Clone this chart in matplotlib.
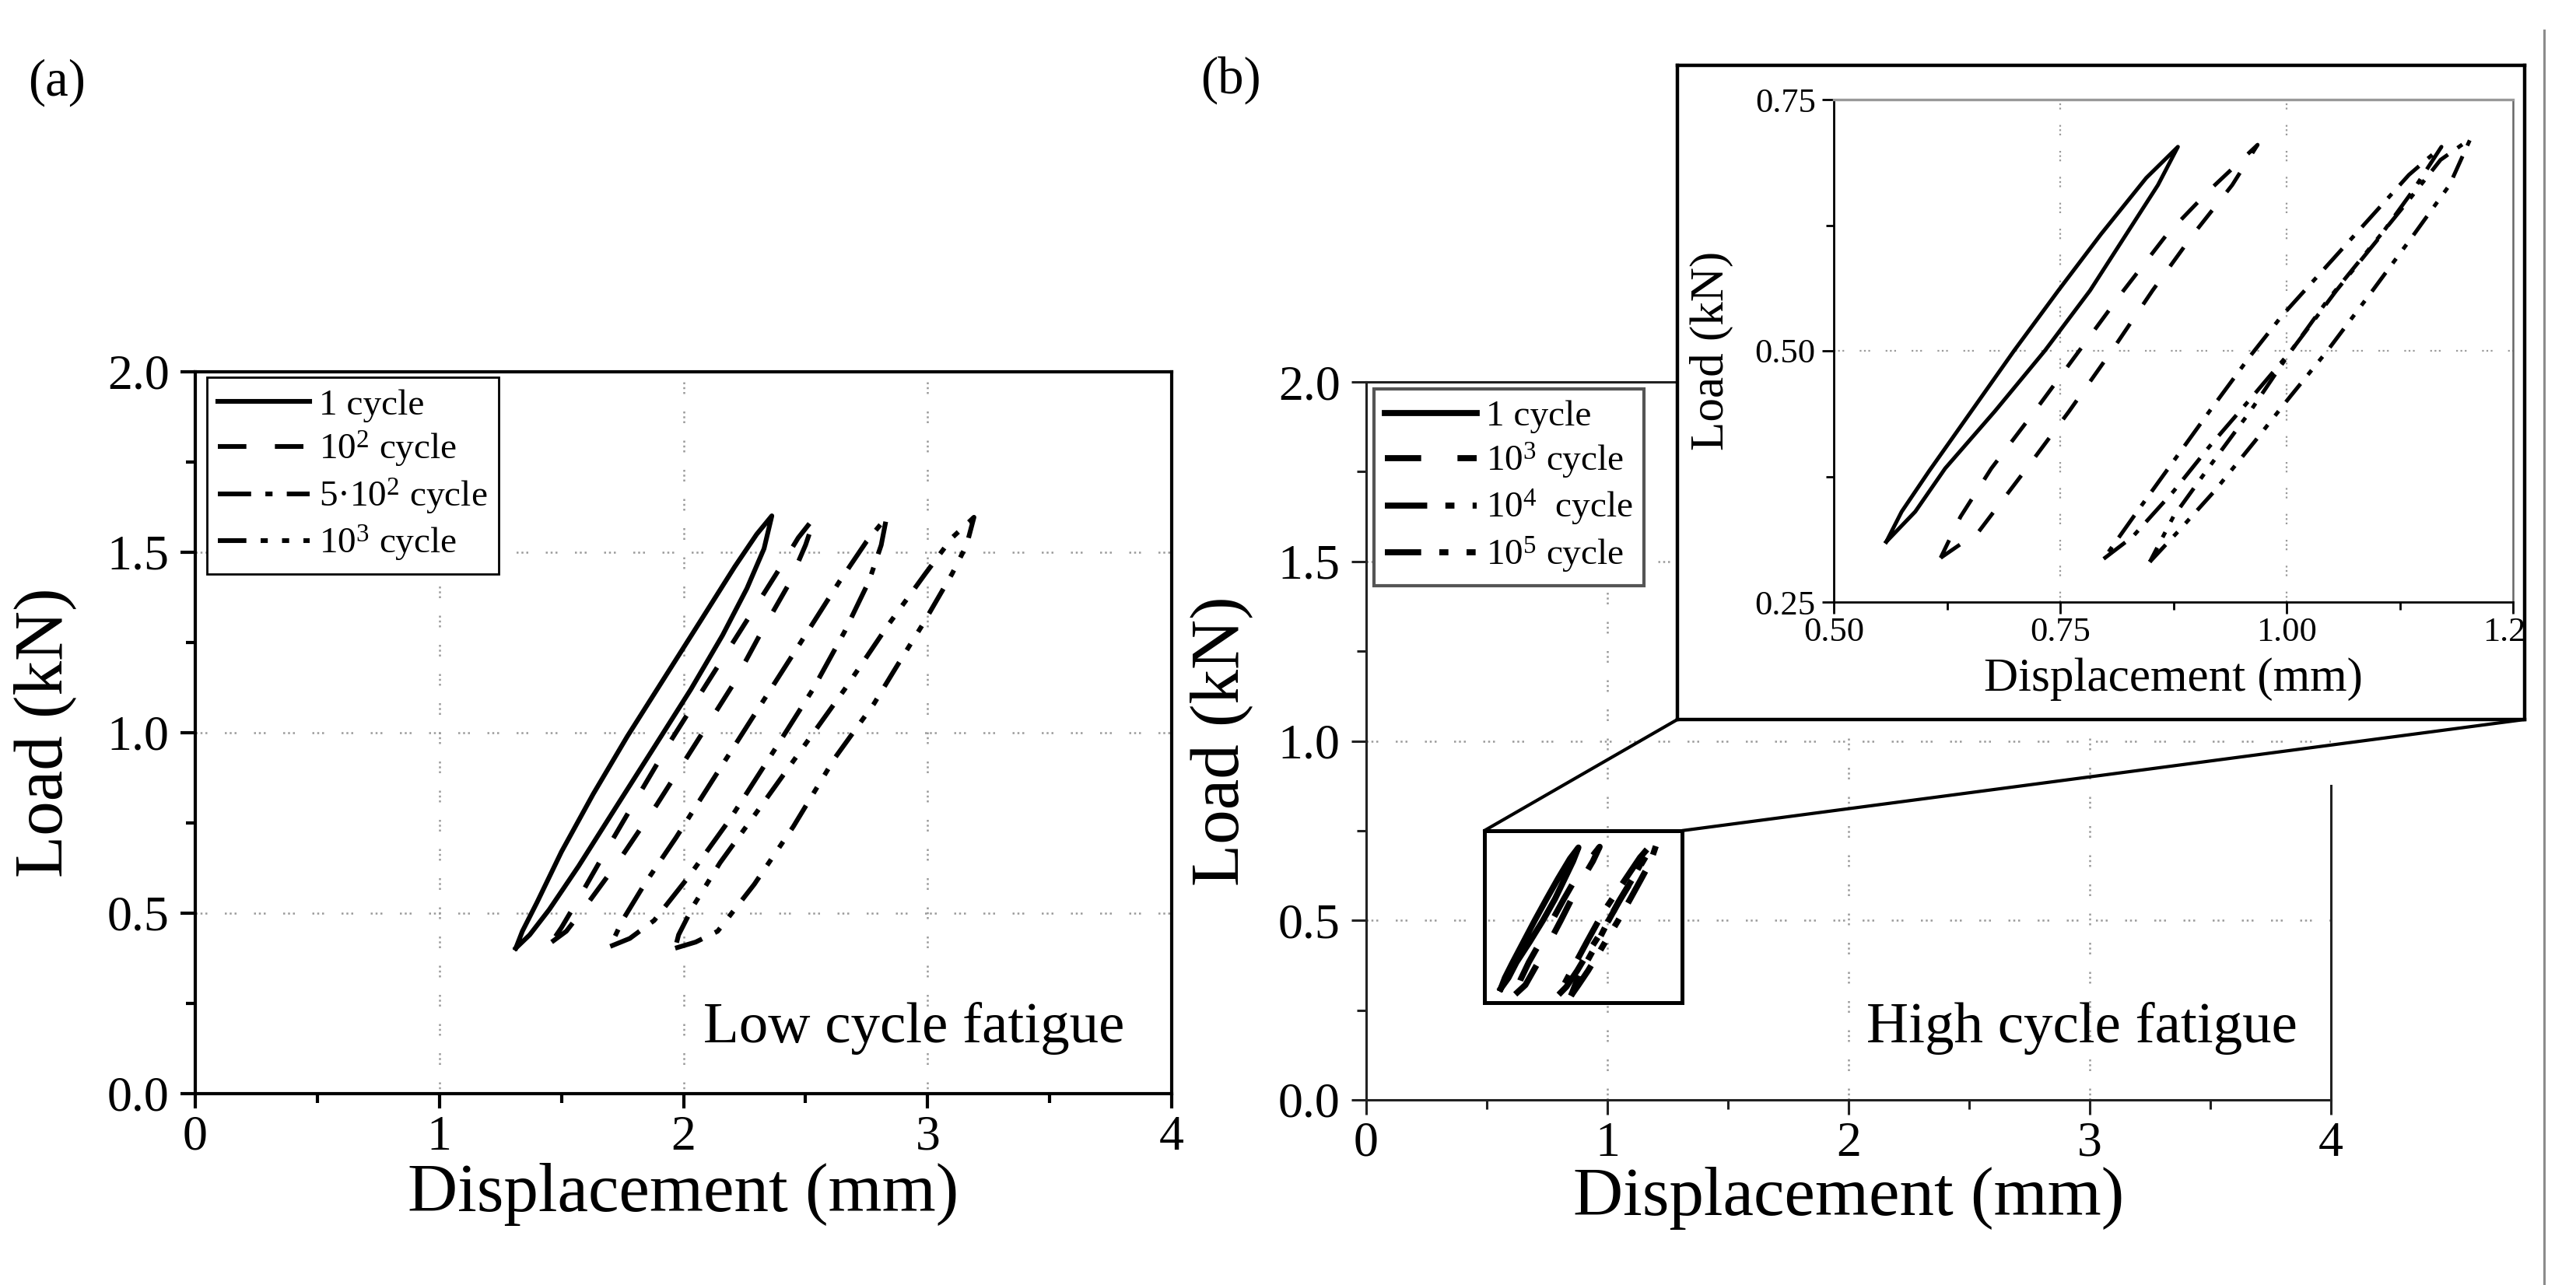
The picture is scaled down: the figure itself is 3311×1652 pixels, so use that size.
import matplotlib
matplotlib.use("Agg")
import matplotlib.pyplot as plt
from matplotlib.patches import Rectangle, ConnectionPatch
from matplotlib.lines import Line2D
from matplotlib.ticker import MultipleLocator, FixedLocator

plt.rcParams["font.family"] = ["Liberation Serif", "DejaVu Serif"]
plt.rcParams["mathtext.fontset"] = "custom"
plt.rcParams["mathtext.rm"] = "Liberation Serif"
plt.rcParams["mathtext.it"] = "Liberation Serif:italic"
plt.rcParams["mathtext.bf"] = "Liberation Serif:bold"

W, H, DPI = 3311, 1652, 200

# (a) low cycle fatigue: displacement (mm) vs load (kN), one closed loop per cycle count
low_labels = ["1 cycle", "10$^{2}$ cycle", "5·10$^{2}$ cycle", "10$^{3}$ cycle"]

low_1_x = [1.313, 1.37, 1.45, 1.57, 1.72, 1.88, 2.03, 2.16, 2.26, 2.33, 2.362,
           2.30, 2.21, 2.07, 1.92, 1.77, 1.63, 1.50, 1.40, 1.34, 1.313]
low_1_y = [0.403, 0.44, 0.51, 0.63, 0.79, 0.96, 1.12, 1.27, 1.40, 1.51, 1.601,
           1.55, 1.46, 1.31, 1.15, 0.99, 0.83, 0.67, 0.53, 0.45, 0.403]

low_2_x = [1.46, 1.52, 1.60, 1.73, 1.89, 2.05, 2.20, 2.32, 2.43, 2.50, 2.54,
           2.47, 2.38, 2.24, 2.09, 1.95, 1.81, 1.68, 1.57, 1.50, 1.46]
low_2_y = [0.42, 0.45, 0.52, 0.64, 0.80, 0.97, 1.13, 1.28, 1.41, 1.52, 1.60,
           1.54, 1.44, 1.29, 1.13, 0.98, 0.82, 0.67, 0.54, 0.46, 0.42]

low_3_x = [1.70, 1.78, 1.88, 2.02, 2.19, 2.38, 2.53, 2.66, 2.76, 2.81, 2.832,
           2.75, 2.64, 2.48, 2.30, 2.13, 1.97, 1.84, 1.75, 1.70]
low_3_y = [0.408, 0.43, 0.48, 0.60, 0.76, 0.96, 1.12, 1.28, 1.42, 1.52, 1.597,
           1.53, 1.42, 1.25, 1.06, 0.88, 0.71, 0.58, 0.48, 0.408]

low_4_x = [1.966, 2.05, 2.14, 2.29, 2.45, 2.62, 2.78, 2.87, 2.98, 3.10, 3.16, 3.19,
           3.10, 2.99, 2.84, 2.66, 2.48, 2.30, 2.15, 2.04, 1.98, 1.966]
low_4_y = [0.403, 0.42, 0.45, 0.58, 0.74, 0.93, 1.08, 1.18, 1.30, 1.44, 1.52, 1.597,
           1.54, 1.44, 1.30, 1.12, 0.95, 0.78, 0.64, 0.52, 0.44, 0.403]

# (b) high cycle fatigue loops
high_labels = ["1 cycle", "10$^{3}$ cycle", "10$^{4}$  cycle", "10$^{5}$ cycle"]

high_1_x = [0.558, 0.590, 0.623, 0.678, 0.733, 0.783, 0.823, 0.858, 0.880,
            0.845, 0.795, 0.748, 0.699, 0.652, 0.605, 0.575, 0.558]
high_1_y = [0.310, 0.340, 0.383, 0.440, 0.500, 0.560, 0.616, 0.665, 0.703,
            0.672, 0.616, 0.560, 0.500, 0.440, 0.380, 0.340, 0.310]

high_2_x = [0.618, 0.660, 0.713, 0.760, 0.807, 0.852, 0.897, 0.940, 0.968,
            0.915, 0.868, 0.820, 0.771, 0.722, 0.674, 0.640, 0.618]
high_2_y = [0.294, 0.320, 0.383, 0.440, 0.500, 0.560, 0.616, 0.665, 0.705,
            0.660, 0.616, 0.560, 0.500, 0.440, 0.383, 0.335, 0.294]

high_3_x = [0.798, 0.830, 0.875, 0.915, 0.958, 1.005, 1.055, 1.100, 1.140, 1.171,
            1.135, 1.095, 1.045, 0.995, 0.960, 0.915, 0.875, 0.835, 0.798]
high_3_y = [0.293, 0.315, 0.360, 0.405, 0.450, 0.500, 0.560, 0.610, 0.660, 0.703,
            0.675, 0.635, 0.585, 0.535, 0.495, 0.440, 0.390, 0.340, 0.293]

high_4_x = [0.849, 0.880, 0.920, 0.965, 1.000, 1.045, 1.095, 1.140, 1.180, 1.203,
            1.170, 1.135, 1.090, 1.045, 1.005, 0.960, 0.915, 0.875, 0.849]
high_4_y = [0.290, 0.320, 0.360, 0.410, 0.450, 0.500, 0.560, 0.615, 0.665, 0.711,
            0.690, 0.650, 0.600, 0.550, 0.500, 0.440, 0.385, 0.335, 0.290]

# region of (b) that is magnified in the inset
zoom_x = [0.49, 1.31]
zoom_y = [0.27, 0.75]

inset_xticks = [0.50, 0.75, 1.00, 1.25]
inset_xticklabels = ["0.50", "0.75", "1.00", "1.25"]
inset_yticks = [0.25, 0.50, 0.75]
inset_yticklabels = ["0.25", "0.50", "0.75"]

styles = ["-", (0, (6, 6)), (0, (7, 3, 1.5, 3)), (0, (6, 3, 1.5, 3, 1.5, 3))]
GRID_LS = (0, (1, 1.5, 1, 1.5, 1, 9))


def px_rect(left, top, right, bottom):
    return [left / W, 1 - bottom / H, (right - left) / W, (bottom - top) / H]


def style_main(ax, spine_lw, spine_color):
    ax.set_xlim(0, 4)
    ax.set_ylim(0, 2)
    ax.xaxis.set_major_locator(MultipleLocator(1))
    ax.xaxis.set_minor_locator(MultipleLocator(0.5))
    ax.yaxis.set_major_locator(MultipleLocator(0.5))
    ax.yaxis.set_minor_locator(MultipleLocator(0.25))
    ax.yaxis.set_major_formatter(plt.FormatStrFormatter("%.1f"))
    ax.tick_params(which="both", direction="out", top=False, right=False,
                   width=spine_lw, color=spine_color)
    ax.tick_params(which="major", length=7, labelsize=23)
    ax.tick_params(which="minor", length=4.3)
    ax.tick_params(axis="x", which="major", pad=3)
    ax.tick_params(axis="y", which="major", pad=5)
    for s in ax.spines.values():
        s.set_linewidth(spine_lw)
        s.set_color(spine_color)
    for v in [1, 2, 3]:
        ax.axvline(v, color="#9a9a9a", lw=0.9, ls=GRID_LS, zorder=0)
    for v in [0.5, 1.0, 1.5]:
        ax.axhline(v, color="#9a9a9a", lw=0.9, ls=GRID_LS, zorder=0)
    ax.set_xlabel("Displacement (mm)", fontsize=32)
    ax.set_ylabel("Load (kN)", fontsize=32)


fig = plt.figure(figsize=(W / DPI, H / DPI), dpi=DPI)

# ---------------- (a) ----------------
axa = fig.add_axes(px_rect(251, 478, 1506, 1406))
style_main(axa, 1.5, "black")
low_x = [low_1_x, low_2_x, low_3_x, low_4_x]
low_y = [low_1_y, low_2_y, low_3_y, low_4_y]
for xs, ys, ls, lab in zip(low_x, low_y, styles, low_labels):
    axa.plot(xs, ys, color="black", lw=2.2, ls=ls, label=lab)
axa.xaxis.set_label_coords(0.5, -0.096)
axa.yaxis.set_label_coords(-0.122, 0.5)
leg = axa.legend(loc="upper left", bbox_to_anchor=(0.012, 0.992), borderaxespad=0,
                 fancybox=False, edgecolor="black", fontsize=17, handlelength=2.5,
                 handletextpad=0.25, labelspacing=0.2, borderpad=0.3, framealpha=1)
leg.get_frame().set_linewidth(1.0)
axa.text(0.952, 0.071, "Low cycle fatigue", transform=axa.transAxes,
         ha="right", va="baseline", fontsize=27)

# ---------------- (b) ----------------
axb = fig.add_axes(px_rect(1756, 491, 2996, 1414))
style_main(axb, 1.1, "#222222")
high_x = [high_1_x, high_2_x, high_3_x, high_4_x]
high_y = [high_1_y, high_2_y, high_3_y, high_4_y]
for xs, ys, ls, lab in zip(high_x, high_y, styles, high_labels):
    axb.plot(xs, ys, color="black", lw=2.8, ls=ls, label=lab)
axb.spines["right"].set_bounds(0, 0.875)
axb.xaxis.set_label_coords(0.5, -0.093)
axb.yaxis.set_label_coords(-0.118, 0.5)
legb = axb.legend(loc="upper left", bbox_to_anchor=(0.008, 0.99), borderaxespad=0,
                  fancybox=False, edgecolor="#555555", fontsize=17, handlelength=2.5,
                  handletextpad=0.25, labelspacing=0.2, borderpad=0.3, framealpha=1)
legb.get_frame().set_linewidth(1.5)
axb.text(0.965, 0.080, "High cycle fatigue", transform=axb.transAxes,
         ha="right", va="baseline", fontsize=27)
axb.add_patch(Rectangle((zoom_x[0], zoom_y[0]), zoom_x[1] - zoom_x[0],
                        zoom_y[1] - zoom_y[0], fill=False, lw=1.8,
                        edgecolor="black", zorder=4))

# white frame holding the magnified view
frame = fig.add_axes(px_rect(2156, 84, 3245, 925), zorder=5)
frame.set_xticks([])
frame.set_yticks([])
frame.set_facecolor("white")
for s in frame.spines.values():
    s.set_linewidth(1.6)
    s.set_color("black")

for xa, xb in [((zoom_x[0], zoom_y[1]), (0, 0)), ((zoom_x[1], zoom_y[1]), (1, 0))]:
    con = ConnectionPatch(xyA=xa, coordsA=axb.transData, xyB=xb,
                          coordsB=frame.transAxes, color="black", lw=1.5)
    fig.add_artist(con)

ins = fig.add_axes(px_rect(2357, 128, 3230, 774), zorder=6)
for xs, ys, ls in zip(high_x, high_y, styles):
    ins.plot(xs, ys, color="black", lw=1.8, ls=ls)
ins.set_xlim(0.5, 1.25)
ins.set_ylim(0.25, 0.75)
ins.xaxis.set_major_locator(FixedLocator(inset_xticks))
ins.xaxis.set_minor_locator(MultipleLocator(0.125))
ins.yaxis.set_major_locator(FixedLocator(inset_yticks))
ins.yaxis.set_minor_locator(MultipleLocator(0.125))
ins.set_xticklabels(inset_xticklabels)
ins.set_yticklabels(inset_yticklabels)
ins.tick_params(which="both", direction="out", top=False, right=False, width=1.0)
ins.tick_params(which="major", length=5.4, labelsize=16, pad=3)
ins.tick_params(which="minor", length=3.5)
ins.tick_params(axis="x", which="major", pad=1.5)
for s in ["left", "bottom"]:
    ins.spines[s].set_linewidth(1.0)
ins.spines["top"].set_color("#999999")
ins.spines["top"].set_linewidth(1.2)
ins.spines["right"].set_color("#666666")
ins.spines["right"].set_linewidth(0.9)
for v in [0.75, 1.00]:
    ins.axvline(v, color="#9a9a9a", lw=0.8, ls=GRID_LS, zorder=0)
ins.axhline(0.5, color="#9a9a9a", lw=0.8, ls=GRID_LS, zorder=0)
ins.set_xlabel("Displacement (mm)", fontsize=22)
ins.set_ylabel("Load (kN)", fontsize=22)
ins.xaxis.set_label_coords(0.5, -0.111)
ins.yaxis.set_label_coords(-0.148, 0.5)
# the last inset tick label is cut by the frame
for lbl in ins.get_xticklabels():
    lbl.set_clip_box(frame.bbox)
    lbl.set_clip_on(True)

# page edge line at the right
fig.add_artist(Line2D([3270 / W, 3270 / W], [0, 1 - 39 / H],
                      transform=fig.transFigure, color="#8c8c8c", lw=1.1))

fig.text(73 / W, 1 - 106 / H, "(a)", ha="center", va="center", fontsize=24)
fig.text(1582 / W, 1 - 103 / H, "(b)", ha="center", va="center", fontsize=24)

fig.savefig("out.png", dpi=DPI)
